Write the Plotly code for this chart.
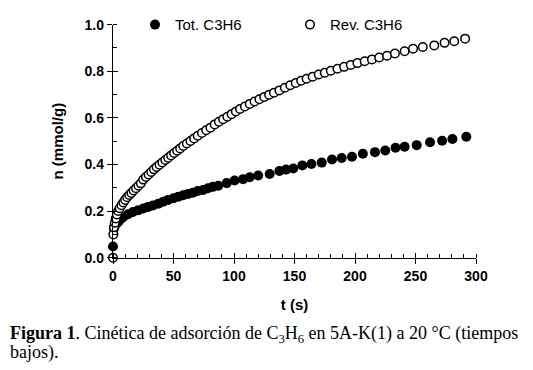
import plotly.graph_objects as go

# ---- data ----
tot_t = [0, 0.8, 2, 3.5, 5, 6.5, 8.5, 12.5, 16.5, 21, 25, 29, 33, 37.5, 41.5, 45.5, 50, 54, 58,
         62, 66, 70, 74.5, 78.5, 82.5, 87, 94, 100.5, 107.5, 113, 120, 129.5, 137.5, 143, 149,
         156.5, 164, 172.5, 181, 189, 197.5, 206.5, 216.5, 225, 233.5, 241, 251, 262, 272,
         280.5, 292]
tot_n = [0.048, 0.125, 0.14, 0.15, 0.158, 0.166, 0.175, 0.186, 0.196, 0.204, 0.211, 0.218, 0.224,
         0.232, 0.240, 0.248, 0.255, 0.262, 0.268, 0.273, 0.279, 0.286, 0.291, 0.298, 0.304,
         0.309, 0.320, 0.331, 0.337, 0.345, 0.353, 0.359, 0.372, 0.378, 0.383, 0.396, 0.402,
         0.408, 0.421, 0.428, 0.433, 0.446, 0.453, 0.460, 0.472, 0.476, 0.483, 0.495, 0.502,
         0.509, 0.519]

rev_t = [0, 0.3, 0.8, 1.5, 2.3, 3.2, 4.3, 5.5, 7.0, 8.5, 10.0, 11.7, 13.4, 15.2, 17.0, 19.0,
         21.0, 23.0, 25.0, 27.2, 29.4, 31.6, 33.8, 36.0, 38.4, 40.8, 43.2, 45.6, 48.0, 50.5,
         53.0, 55.5, 58.0, 61.0, 64.0, 67.0, 70.0, 73.5, 77.0, 80.5, 84.0, 87.5, 91.0, 94.5,
         98.0, 101.5, 105.0, 109.0, 113.0, 117.0, 121.0, 125.0, 129.0, 133.0, 137.5, 142.0,
         146.5, 151.0, 155.5, 160.0, 165.0, 170.0, 175.0, 180.0, 185.5, 191.0, 196.5, 202.0,
         208.0, 214.0, 220.0, 226.5, 233.0, 241.0, 248.0, 256.0, 265.5, 274.0, 282.0, 291.0]
rev_n = [0.000, 0.100, 0.131, 0.150, 0.168, 0.185, 0.200, 0.212, 0.225, 0.237, 0.248, 0.259,
         0.269, 0.278, 0.288, 0.298, 0.309, 0.319, 0.335, 0.346, 0.357, 0.368, 0.379, 0.389,
         0.399, 0.409, 0.419, 0.429, 0.439, 0.449, 0.459, 0.469, 0.479, 0.490, 0.501, 0.512,
         0.523, 0.535, 0.547, 0.558, 0.572, 0.583, 0.594, 0.605, 0.616, 0.627, 0.638, 0.649,
         0.660, 0.670, 0.680, 0.690, 0.699, 0.708, 0.718, 0.729, 0.740, 0.750, 0.759, 0.768,
         0.777, 0.786, 0.794, 0.802, 0.811, 0.819, 0.827, 0.835, 0.843, 0.851, 0.859, 0.867,
         0.876, 0.886, 0.897, 0.904, 0.911, 0.922, 0.929, 0.940]

x_ticks = [0, 50, 100, 150, 200, 250, 300]
y_ticks = [0.0, 0.2, 0.4, 0.6, 0.8, 1.0]
y_tick_labels = ["0.0", "0.2", "0.4", "0.6", "0.8", "1.0"]

W, H = 533, 370
OFF = 8                  # default page body margin
PX0, PX1 = 113 - OFF, 476 - OFF      # plot area left/right (figure px)
PY1, PY0 = 11.8 - OFF, 253.3 - OFF   # plot area top/bottom (figure px)

fig = go.Figure()
fig.add_trace(go.Scatter(
    x=tot_t, y=tot_n, mode="markers", name="Tot. C3H6", cliponaxis=False,
    marker=dict(symbol="circle", size=10, color="black", line=dict(width=0))))
fig.add_trace(go.Scatter(
    x=rev_t, y=rev_n, mode="markers", name="Rev. C3H6", cliponaxis=False,
    marker=dict(symbol="circle", size=8.5, color="white", line=dict(width=1.5, color="black"))))
# invisible trace on overlay axes (inner halves of major ticks)
fig.add_trace(go.Scatter(x=[0], y=[0], xaxis="x2", yaxis="y2", mode="markers",
                         marker=dict(opacity=0), showlegend=False, hoverinfo="skip"))

xdom = [PX0 / W, PX1 / W]
ydom = [(H - PY0) / H, (H - PY1) / H]
tickfont = dict(family="Liberation Sans, Arial", size=14, color="black", weight="bold")
titlefont = dict(family="Liberation Sans, Arial", size=15, color="black", weight="bold")
fig.update_layout(
    template="none",
    width=W, height=H,
    margin=dict(l=0, r=0, t=0, b=0),
    paper_bgcolor="white", plot_bgcolor="white",
    showlegend=True,
    legend=dict(orientation="h", x=(135 - OFF) / W, y=(H - 12 + OFF) / H, xanchor="left",
                yanchor="middle",
                font=dict(family="Liberation Sans, Arial", size=15, color="black"),
                bgcolor="rgba(0,0,0,0)", entrywidth=110, itemwidth=30,
                tracegroupgap=0),
    xaxis=dict(domain=xdom, anchor="y", range=[0, 300], tickvals=x_ticks, ticks="outside",
               ticklen=5, tickwidth=1.3, automargin=False,
               tickcolor="black", showline=True, linecolor="black", linewidth=1.3,
               showgrid=False, zeroline=False, tickfont=tickfont,
               minor=dict(dtick=10, ticks="inside", ticklen=4, tickcolor="black", tickwidth=1.2,
                          showgrid=False),
               title=dict(text="t (s)", font=titlefont, standoff=16)),
    yaxis=dict(domain=ydom, anchor="x", range=[0, 1.0], tickvals=y_ticks, ticktext=y_tick_labels,
               ticks="outside", automargin=False,
               ticklen=5, tickwidth=1.3, tickcolor="black", showline=True, linecolor="black",
               linewidth=1.3, showgrid=False, zeroline=False, tickfont=tickfont,
               minor=dict(dtick=0.1, ticks="inside", ticklen=4, tickcolor="black", tickwidth=1.2,
                          showgrid=False),
               title=dict(text="n (mmol/g)", font=titlefont, standoff=17)),
    xaxis2=dict(domain=xdom, overlaying="x", matches="x", anchor="y2", range=[0, 300],
                tickvals=x_ticks, ticks="inside", automargin=False,
                ticklen=5, tickwidth=1.3, tickcolor="black", showticklabels=False,
                showline=False, showgrid=False, zeroline=False, side="bottom"),
    yaxis2=dict(domain=ydom, overlaying="y", matches="y", anchor="x2", range=[0, 1.0],
                tickvals=y_ticks, ticks="inside", automargin=False,
                ticklen=5, tickwidth=1.3, tickcolor="black", showticklabels=False,
                showline=False, showgrid=False, zeroline=False, side="left"),
)

cap_font = dict(family="Liberation Serif, Times New Roman", size=18, color="black")
fig.add_annotation(text="<b>Figura 1</b>. Cinética de adsorción de C<sub>3</sub>H<sub>6</sub> en 5A-K(1) a 20 °C (tiempos",
                   xref="paper", yref="paper", x=0, y=(H - 333 + OFF) / H,
                   xanchor="left", yanchor="middle", showarrow=False, font=cap_font)
fig.add_annotation(text="bajos).", xref="paper", yref="paper", x=0,
                   y=(H - 352 + OFF) / H, xanchor="left", yanchor="middle", showarrow=False,
                   font=cap_font)

fig.write_html("out.html")
